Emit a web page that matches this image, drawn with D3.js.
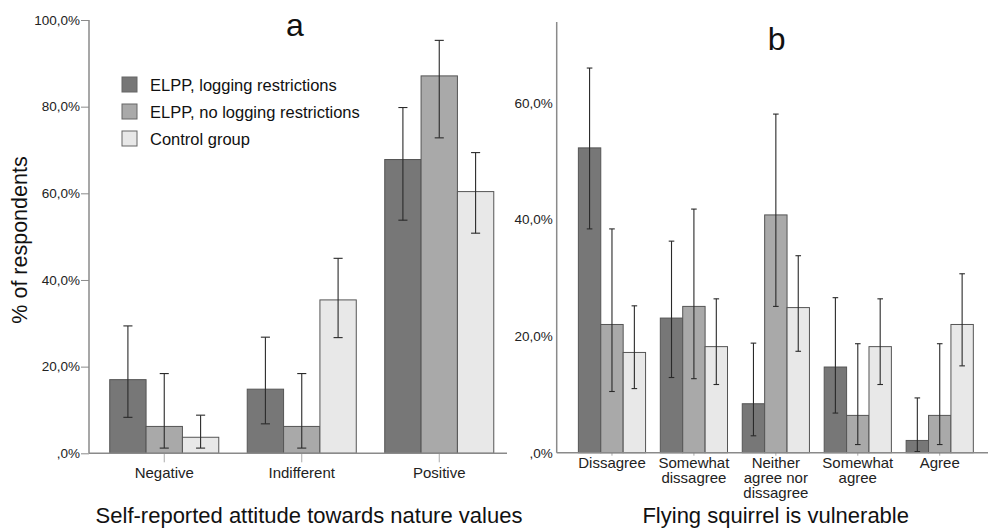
<!DOCTYPE html>
<html>
<head>
<meta charset="utf-8">
<script src="https://cdn.jsdelivr.net/npm/d3@7"></script>
<style>
  body { margin: 0; background: #fff; }
  svg { font-family: "Liberation Sans", Arial, sans-serif; }
</style>
</head>
<body>
<script>
// series shared by both panels
const seriesNames = ['ELPP, logging restrictions', 'ELPP, no logging restrictions', 'Control group'];
const seriesFill = ['#777777', '#a9a9a9', '#e8e8e8'];

// panel a: self-reported attitude
const attitudeCats = ['Negative', 'Indifferent', 'Positive'];
const attitudeVals = [[17.0, 6.2, 3.7], [14.8, 6.2, 35.4], [67.8, 87.1, 60.4]];
const attitudeLow = [[8.3, 1.2, 1.2], [6.8, 1.2, 26.7], [53.8, 72.8, 50.8]];
const attitudeHigh = [[29.4, 18.4, 8.8], [26.8, 18.4, 45.0], [79.8, 95.3, 69.4]];
const attitudeTicks = [0, 20, 40, 60, 80, 100];

// panel b: flying squirrel is vulnerable
const squirrelCats = ['Dissagree', 'Somewhat\ndissagree', 'Neither\nagree nor\ndissagree', 'Somewhat\nagree', 'Agree'];
const squirrelVals = [[52.3, 22.0, 17.2], [23.1, 25.1, 18.2], [8.4, 40.8, 24.9], [14.7, 6.4, 18.2], [2.1, 6.4, 22.0]];
const squirrelLow = [[38.4, 10.5, 11.0], [12.9, 12.7, 11.7], [2.9, 25.1, 17.4], [6.8, 1.4, 11.7], [0.2, 1.4, 14.9]];
const squirrelHigh = [[66.0, 38.4, 25.2], [36.3, 41.8, 26.4], [18.8, 58.1, 33.8], [26.6, 18.7, 26.4], [9.4, 18.7, 30.7]];
const squirrelTicks = [0, 20, 40, 60];

const fmt = d => d === 0 ? ',0%' : d.toFixed(1).replace('.', ',') + '%';

const svg = d3.select('body').append('svg')
  .attr('width', 988)
  .attr('height', 528);

function panel(opt) {
  const g = svg.append('g').attr('transform', `translate(${opt.left},0)`);

  const y = d3.scaleLinear().domain([0, opt.yMax]).range([opt.bottom, opt.top]);
  const x = d3.scaleBand().domain(opt.cats)
    .range(opt.band).paddingInner(opt.pad).paddingOuter(opt.pad / 2);
  const xs = d3.scaleBand().domain(d3.range(seriesNames.length)).range([0, x.bandwidth()]);

  // y axis
  const yAxis = g.append('g')
    .call(d3.axisLeft(y).tickValues(opt.ticks).tickFormat(fmt)
      .tickSize(opt.tickLen).tickPadding(opt.tickLen ? 1 : 4).tickSizeOuter(0));
  yAxis.select('.domain').remove();
  yAxis.selectAll('line').attr('stroke', '#8a8a8a');
  yAxis.selectAll('text').attr('font-size', 13.5).attr('fill', '#222');
  g.append('line')
    .attr('x1', 0).attr('x2', 0).attr('y1', opt.axisTop).attr('y2', y(0))
    .attr('stroke', '#8a8a8a').attr('stroke-width', 1.5);

  // x axis
  const xAxis = g.append('g')
    .attr('transform', `translate(0,${y(0)})`)
    .call(d3.axisBottom(x).tickSize(opt.xTickLen).tickSizeOuter(0).tickFormat(''));
  xAxis.select('.domain').remove();
  xAxis.selectAll('line').attr('stroke', '#aaa');

  // bars
  const groups = g.selectAll('.grp')
    .data(opt.cats)
    .join('g')
    .attr('class', 'grp')
    .attr('transform', d => `translate(${x(d)},0)`);

  groups.selectAll('rect')
    .data((d, i) => opt.vals[i].map((v, j) => ({ v, j })))
    .join('rect')
    .attr('x', d => xs(d.j))
    .attr('width', xs.bandwidth())
    .attr('y', d => y(d.v))
    .attr('height', d => y(0) - y(d.v))
    .attr('fill', d => seriesFill[d.j])
    .attr('stroke', '#555')
    .attr('stroke-width', 1);

  // error bars
  const cap = xs.bandwidth() * 0.25;
  const err = groups.selectAll('.err')
    .data((d, i) => opt.vals[i].map((v, j) => ({ lo: opt.low[i][j], hi: opt.high[i][j], j })))
    .join('g')
    .attr('class', 'err')
    .attr('stroke', '#2a2a2a')
    .attr('stroke-width', 1.1)
    .attr('transform', d => `translate(${xs(d.j) + xs.bandwidth() / 2},0)`);
  err.append('line').attr('y1', d => y(d.lo)).attr('y2', d => y(d.hi));
  err.append('line').attr('x1', -cap / 2).attr('x2', cap / 2).attr('y1', d => y(d.lo)).attr('y2', d => y(d.lo));
  err.append('line').attr('x1', -cap / 2).attr('x2', cap / 2).attr('y1', d => y(d.hi)).attr('y2', d => y(d.hi));

  // baseline
  g.append('line')
    .attr('x1', 0).attr('x2', opt.width).attr('y1', y(0)).attr('y2', y(0))
    .attr('stroke', '#8a8a8a').attr('stroke-width', 1.5);

  // category labels
  groups.append('text')
    .attr('x', x.bandwidth() / 2)
    .attr('text-anchor', 'middle')
    .attr('font-size', 15)
    .attr('fill', '#222')
    .selectAll('tspan')
    .data(d => d.split('\n'))
    .join('tspan')
    .attr('x', x.bandwidth() / 2)
    .attr('y', (d, i) => y(0) + opt.labelDy + i * 15)
    .text(d => d);

  // panel letter and axis title
  g.append('text')
    .attr('x', opt.letterX).attr('y', opt.letterY)
    .attr('text-anchor', 'middle').attr('font-size', 32).attr('fill', '#111')
    .text(opt.letter);
  g.append('text')
    .attr('x', opt.titleX).attr('y', 523)
    .attr('text-anchor', 'middle').attr('font-size', 22).attr('fill', '#111')
    .text(opt.title);

  return g;
}

const ga = panel({
  left: 89, width: 418, top: 20, bottom: 453.3, axisTop: 20, yMax: 100,
  band: [6.5, 419], pad: 0.207, cats: attitudeCats,
  vals: attitudeVals, low: attitudeLow, high: attitudeHigh, ticks: attitudeTicks,
  tickLen: 8, xTickLen: 9, labelDy: 25,
  letter: 'a', letterX: 206, letterY: 35.5,
  title: 'Self-reported attitude towards nature values', titleX: 220
});

panel({
  left: 556.7, width: 432, top: 22, bottom: 452.7, axisTop: 22, yMax: 73.9,
  band: [14.3, 424], pad: 0.18, cats: squirrelCats,
  vals: squirrelVals, low: squirrelLow, high: squirrelHigh, ticks: squirrelTicks,
  tickLen: 0, xTickLen: 3, labelDy: 15,
  letter: 'b', letterX: 220, letterY: 49.5,
  title: 'Flying squirrel is vulnerable', titleX: 219
});

// y axis title
svg.append('text')
  .attr('transform', 'translate(27,240) rotate(-90)')
  .attr('text-anchor', 'middle').attr('font-size', 21.5).attr('fill', '#111')
  .text('% of respondents');

// legend
const legend = ga.append('g').attr('transform', 'translate(33,77)');
const row = legend.selectAll('g')
  .data(seriesNames)
  .join('g')
  .attr('transform', (d, i) => `translate(0,${i * 27})`);
row.append('rect')
  .attr('width', 15).attr('height', 15)
  .attr('fill', (d, i) => seriesFill[i])
  .attr('stroke', '#666');
row.append('text')
  .attr('x', 28).attr('y', 13.5)
  .attr('font-size', 16.5).attr('fill', '#111')
  .text(d => d);
</script>
</body>
</html>
